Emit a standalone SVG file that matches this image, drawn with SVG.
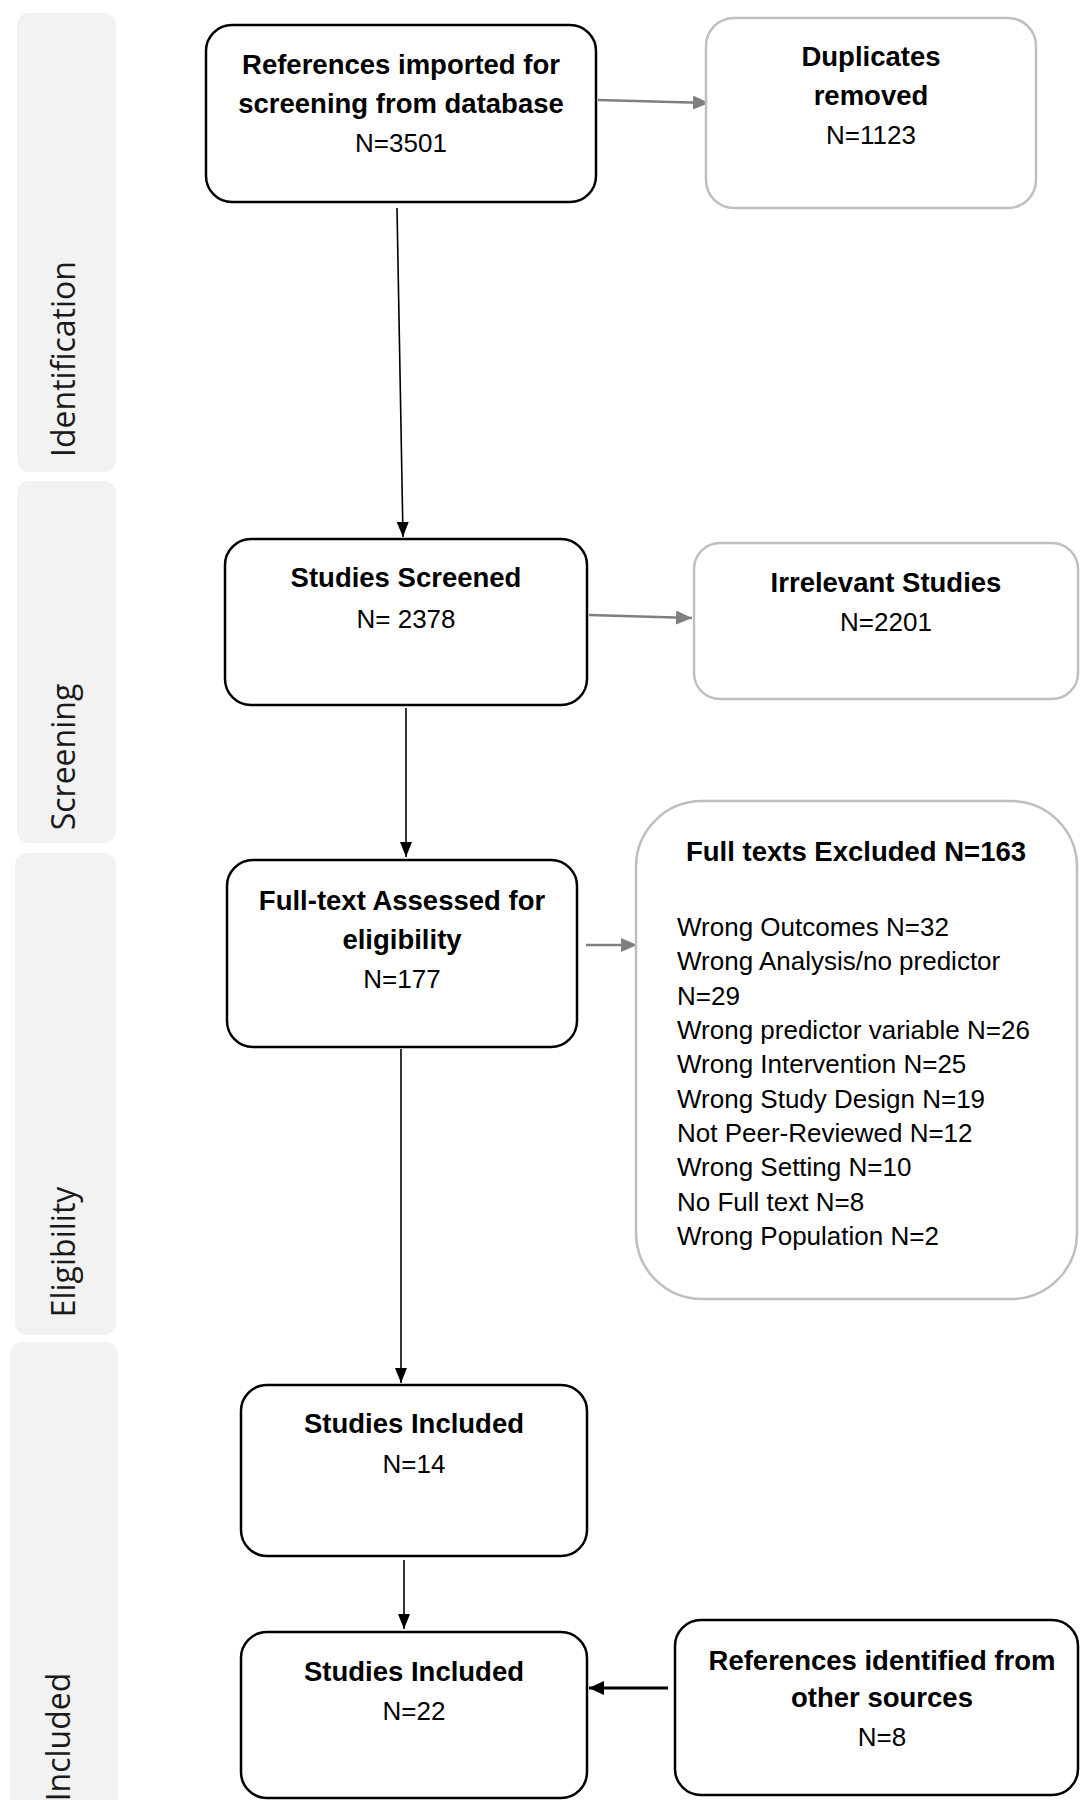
<svg xmlns="http://www.w3.org/2000/svg" width="1080" height="1800" viewBox="0 0 1080 1800">
  <style>
    .band { fill: #f2f2f2; }
    .band-label { font-family: "Open Sans", "DejaVu Sans", sans-serif; font-size: 32px; fill: #1a1a1a; text-anchor: middle; }
    .box { fill: #ffffff; stroke: #000000; stroke-width: 2.5; }
    .box-soft { fill: #ffffff; stroke: #bfbfbf; stroke-width: 2.5; }
    .t { font-family: "Liberation Sans", Arial, sans-serif; font-size: 26px; fill: #000000; text-anchor: middle; }
    .b { font-weight: bold; font-size: 27.5px; }
    .list { font-family: "Liberation Sans", Arial, sans-serif; font-size: 26px; fill: #000000; }
    .arrow-dark { stroke: #000000; stroke-width: 1.6; fill: none; marker-end: url(#head-dark); }
    .arrow-dark-thick { stroke: #000000; stroke-width: 3; fill: none; marker-end: url(#head-dark-big); }
    .arrow-grey { stroke: #7f7f7f; stroke-width: 2.5; fill: none; marker-end: url(#head-grey); }
  </style>
  <defs>
    <marker id="head-dark" markerUnits="userSpaceOnUse" markerWidth="16" markerHeight="12" refX="15" refY="6" orient="auto">
      <path d="M0,0 L15,6 L0,12 z" fill="#000000"/>
    </marker>
    <marker id="head-dark-big" markerUnits="userSpaceOnUse" markerWidth="16" markerHeight="14" refX="15" refY="7" orient="auto">
      <path d="M0,0 L15,7 L0,14 z" fill="#000000"/>
    </marker>
    <marker id="head-grey" markerUnits="userSpaceOnUse" markerWidth="17" markerHeight="14" refX="16" refY="7" orient="auto">
      <path d="M0,0 L16,7 L0,14 z" fill="#7f7f7f"/>
    </marker>
  </defs>

  <!-- phase bands -->
  <g id="band-identification">
    <rect class="band" x="17" y="13" width="99" height="459" rx="12"/>
    <text class="band-label" transform="translate(75,359) rotate(-90)">Identification</text>
  </g>
  <g id="band-screening">
    <rect class="band" x="17" y="481" width="99" height="362" rx="12"/>
    <text class="band-label" transform="translate(75,757) rotate(-90)">Screening</text>
  </g>
  <g id="band-eligibility">
    <rect class="band" x="15" y="853" width="101" height="482" rx="12"/>
    <text class="band-label" transform="translate(75,1252) rotate(-90)">Eligibility</text>
  </g>
  <g id="band-included">
    <rect class="band" x="10" y="1342" width="108" height="480" rx="12"/>
    <text class="band-label" transform="translate(70,1737) rotate(-90)">Included</text>
  </g>

  <!-- connectors -->
  <g id="connectors">
    <line class="arrow-grey" x1="598" y1="100" x2="709" y2="103"/>
    <line class="arrow-dark" x1="397" y1="208" x2="403" y2="537"/>
    <line class="arrow-grey" x1="589" y1="615" x2="692" y2="618"/>
    <line class="arrow-dark" x1="406" y1="708" x2="406" y2="857"/>
    <line class="arrow-grey" x1="586" y1="945" x2="637" y2="945"/>
    <line class="arrow-dark" x1="401" y1="1049" x2="401" y2="1383"/>
    <line class="arrow-dark" x1="404" y1="1560" x2="404" y2="1629"/>
    <line class="arrow-dark-thick" x1="668" y1="1688" x2="589" y2="1688"/>
  </g>

  <!-- nodes -->
  <g id="node-references-imported">
    <rect class="box" x="206" y="25" width="390" height="177" rx="26"/>
    <text class="t b" x="401" y="74">References imported for</text>
    <text class="t b" x="401" y="113">screening from database</text>
    <text class="t" x="401" y="152">N=3501</text>
  </g>
  <g id="node-duplicates">
    <rect class="box-soft" x="706" y="18" width="330" height="190" rx="28"/>
    <text class="t b" x="871" y="66">Duplicates</text>
    <text class="t b" x="871" y="105">removed</text>
    <text class="t" x="871" y="144">N=1123</text>
  </g>
  <g id="node-screened">
    <rect class="box" x="225" y="539" width="362" height="166" rx="26"/>
    <text class="t b" x="406" y="587">Studies Screened</text>
    <text class="t" x="406" y="628">N= 2378</text>
  </g>
  <g id="node-irrelevant">
    <rect class="box-soft" x="694" y="543" width="384" height="156" rx="26"/>
    <text class="t b" x="886" y="592">Irrelevant Studies</text>
    <text class="t" x="886" y="631">N=2201</text>
  </g>
  <g id="node-fulltext-assessed">
    <rect class="box" x="227" y="860" width="350" height="187" rx="26"/>
    <text class="t b" x="402" y="910">Full-text Assessed for</text>
    <text class="t b" x="402" y="949">eligibility</text>
    <text class="t" x="402" y="988">N=177</text>
  </g>
  <g id="node-fulltext-excluded">
    <rect class="box-soft" x="636" y="801" width="441" height="498" rx="66"/>
    <text class="t b" x="856" y="861">Full texts Excluded N=163</text>
    <text class="list" x="677" y="936">Wrong Outcomes N=32</text>
    <text class="list" x="677" y="970">Wrong Analysis/no predictor</text>
    <text class="list" x="677" y="1005">N=29</text>
    <text class="list" x="677" y="1039">Wrong predictor variable N=26</text>
    <text class="list" x="677" y="1073">Wrong Intervention N=25</text>
    <text class="list" x="677" y="1108">Wrong Study Design N=19</text>
    <text class="list" x="677" y="1142">Not Peer-Reviewed N=12</text>
    <text class="list" x="677" y="1176">Wrong Setting N=10</text>
    <text class="list" x="677" y="1211">No Full text N=8</text>
    <text class="list" x="677" y="1245">Wrong Population N=2</text>
  </g>
  <g id="node-included-14">
    <rect class="box" x="241" y="1385" width="346" height="171" rx="26"/>
    <text class="t b" x="414" y="1433">Studies Included</text>
    <text class="t" x="414" y="1473">N=14</text>
  </g>
  <g id="node-included-22">
    <rect class="box" x="241" y="1632" width="346" height="166" rx="26"/>
    <text class="t b" x="414" y="1681">Studies Included</text>
    <text class="t" x="414" y="1720">N=22</text>
  </g>
  <g id="node-other-sources">
    <rect class="box" x="675" y="1620" width="403" height="175" rx="26"/>
    <text class="t b" x="882" y="1670">References identified from</text>
    <text class="t b" x="882" y="1707">other sources</text>
    <text class="t" x="882" y="1746">N=8</text>
  </g>
</svg>
